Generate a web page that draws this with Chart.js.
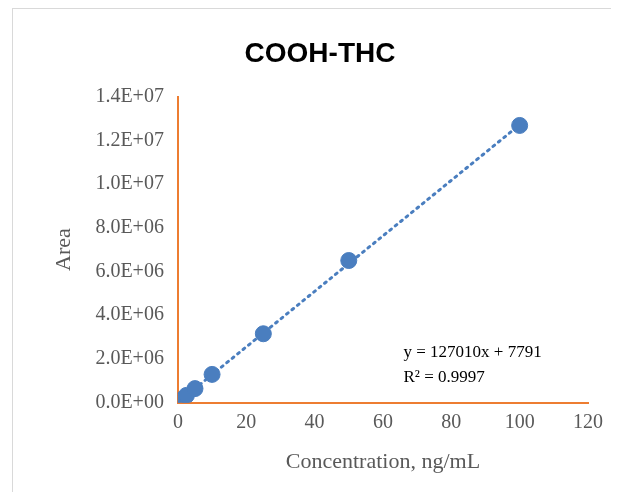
<!DOCTYPE html>
<html>
<head>
<meta charset="utf-8">
<script src="https://cdn.jsdelivr.net/npm/chart.js@4"></script>
<style>
  html, body { margin: 0; background: #fff; }
  #wrap { position: absolute; left: 12px; top: 8px; width: 598px; height: 484px; border-left: 1px solid #d9d9d9; border-top: 1px solid #d9d9d9; }
</style>
</head>
<body>
<div id="wrap"><canvas id="chart"></canvas></div>
<script>
const concentrations = [0.5, 1, 2.5, 5, 10, 25, 50, 100];
const areas = [70000, 130000, 330000, 640000, 1290000, 3150000, 6500000, 12680000];
const slope = 127010;
const intercept = 7791;
const rSquared = 0.9997;
const trendX = [0, 100];

const labelPlugin = {
  id: 'eqLabel',
  afterDatasetsDraw(chart) {
    const { ctx, scales } = chart;
    ctx.save();
    ctx.fillStyle = '#000';
    ctx.font = '17px "Liberation Serif", serif';
    ctx.textBaseline = 'middle';
    const x = scales.x.getPixelForValue(66);
    ctx.fillText('y = ' + slope + 'x + ' + intercept, x, scales.y.getPixelForValue(2.3e6));
    ctx.fillText('R\u00B2 = ' + rSquared, x, scales.y.getPixelForValue(1.15e6));
    ctx.restore();
  }
};

new Chart(document.getElementById('chart').getContext('2d'), {
  type: 'scatter',
  data: {
    datasets: [{
      data: concentrations.map((c, i) => ({ x: c, y: areas[i] })),
      backgroundColor: '#4A7EBF',
      borderColor: '#4A7EBF',
      pointRadius: 8,
      order: 1
    }, {
      type: 'line',
      data: trendX.map(x => ({ x: x, y: slope * x + intercept })),
      borderColor: '#4A7EBF',
      borderWidth: 3,
      borderDash: [2, 5],
      borderCapStyle: 'round',
      pointRadius: 0,
      fill: false,
      order: 2
    }]
  },
  plugins: [labelPlugin],
  options: {
    responsive: true,
    maintainAspectRatio: false,
    animation: false,
    layout: { padding: { left: 34, right: 18, top: 14, bottom: 14 } },
    scales: {
      x: {
        type: 'linear',
        min: 0, max: 120,
        ticks: { stepSize: 20, color: '#595959', padding: 8, font: { size: 20, family: '"Liberation Serif", serif' } },
        grid: { display: false, drawTicks: false },
        border: { color: '#ED7D31', width: 2 },
        title: { display: true, text: 'Concentration, ng/mL', color: '#595959', padding: { top: 6 }, font: { size: 22, family: '"Liberation Serif", serif' } }
      },
      y: {
        min: 0, max: 14000000,
        ticks: {
          stepSize: 2000000, color: '#595959', padding: 14,
          font: { size: 20, family: '"Liberation Serif", serif' },
          callback: v => { const e = v === 0 ? 0 : Math.floor(Math.log10(v)); return (v / Math.pow(10, e)).toFixed(1) + 'E+' + String(e).padStart(2, '0'); }
        },
        grid: { display: false, drawTicks: false },
        border: { color: '#ED7D31', width: 2 },
        title: { display: true, text: 'Area', color: '#595959', font: { size: 22, family: '"Liberation Serif", serif' } }
      }
    },
    plugins: {
      legend: { display: false },
      tooltip: { enabled: false },
      title: { display: true, text: 'COOH-THC', color: '#000', font: { size: 28, weight: 'bold', family: '"Liberation Sans Narrow", "Liberation Sans", sans-serif' }, padding: { top: 14, bottom: 26 } }
    }
  }
});
</script>
</body>
</html>
